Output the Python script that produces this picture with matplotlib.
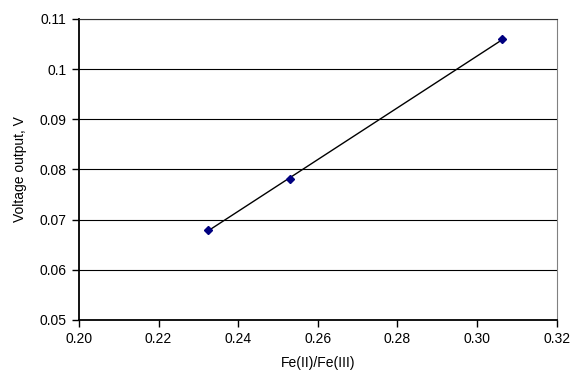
import numpy as np
import matplotlib
matplotlib.use('Agg')
import matplotlib.pyplot as plt

# Measured points
ratio = [0.2324, 0.2530, 0.3064]
voltage = [0.068, 0.078, 0.106]

x_ticks = [0.20, 0.22, 0.24, 0.26, 0.28, 0.30, 0.32]
y_ticks = [0.05, 0.06, 0.07, 0.08, 0.09, 0.10, 0.11]
y_labels = ['0.05', '0.06', '0.07', '0.08', '0.09', '0.1', '0.11']

plt.rcParams['font.family'] = ['Liberation Sans', 'DejaVu Sans']

fig = plt.figure(figsize=(5.81, 3.72), dpi=100)
ax = fig.add_axes([0.136, 0.140, 0.822, 0.809])

# Linear trendline
k, m = np.polyfit(ratio, voltage, 1)
xs = np.array([ratio[0], ratio[-1]])
ax.plot(xs, k * xs + m, color='black', linewidth=1.0, zorder=3)
ax.plot(ratio, voltage, linestyle='none', marker='D', markersize=4.5,
        color='#000080', zorder=4)

ax.set_xlim(0.20, 0.32)
ax.set_ylim(0.05, 0.11)
ax.set_xticks(x_ticks)
ax.set_xticklabels(['%.2f' % v for v in x_ticks])
ax.set_yticks(y_ticks)
ax.set_yticklabels(y_labels)

for y in y_ticks[1:]:
    ax.axhline(y, color='black', linewidth=0.8, zorder=1)

ax.spines['left'].set_linewidth(1.3)
ax.spines['bottom'].set_linewidth(1.3)
ax.spines['right'].set_color('#808080')
ax.spines['top'].set_color('#333333')
ax.tick_params(direction='out', length=5, width=1, labelsize=10, colors='black', pad=4)

ax.set_xlabel('Fe(II)/Fe(III)', fontsize=10, labelpad=7)
ax.set_ylabel('Voltage output, V', fontsize=10, labelpad=9)

fig.savefig('out.png', dpi=100)
